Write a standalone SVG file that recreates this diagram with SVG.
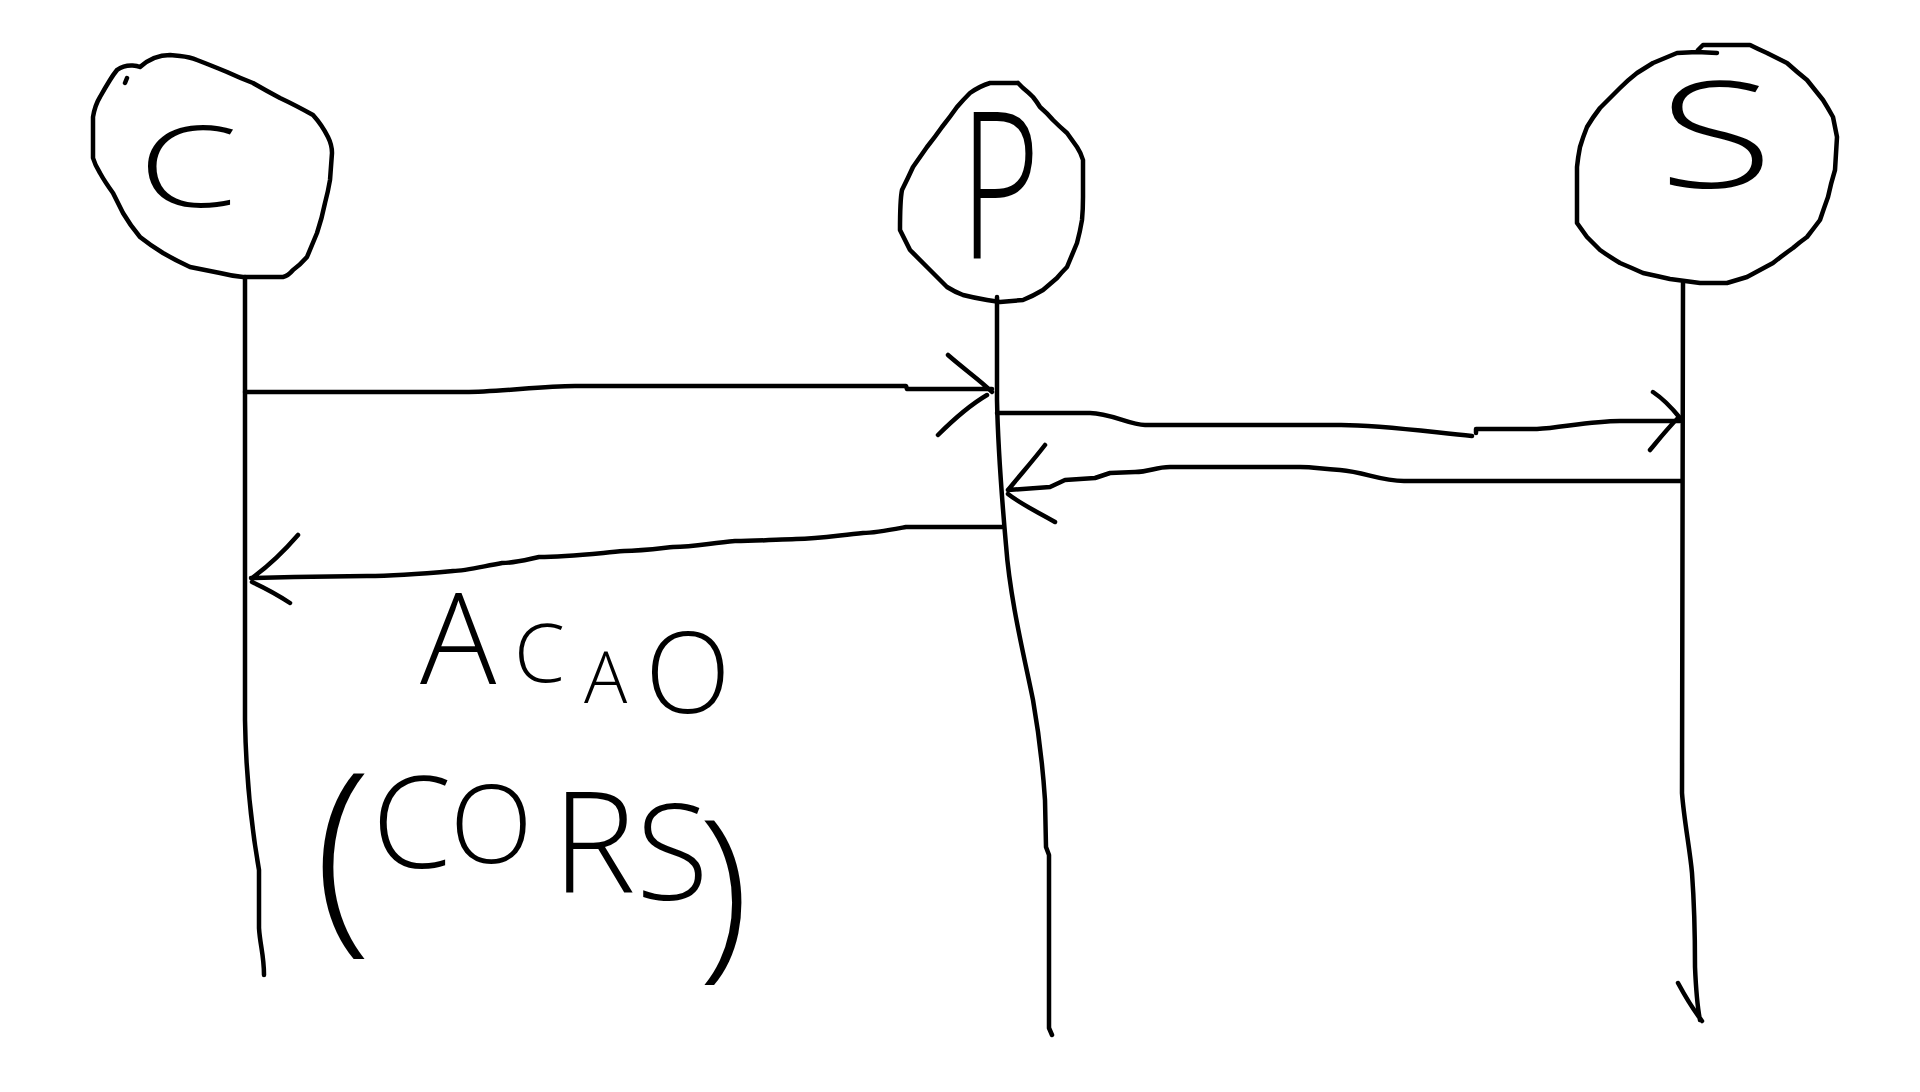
<svg xmlns="http://www.w3.org/2000/svg" width="1920" height="1092" viewBox="0 0 1920 1092">
<style>
.ink{fill:none;stroke:#000;stroke-width:4.5;stroke-linecap:round;stroke-linejoin:round}
.hand{font-family:"Open Sans","Liberation Sans",sans-serif;font-weight:300;fill:#000}
</style>
<rect width="1920" height="1092" fill="#fff"/>
<g id="node-C">
<path class="ink" d="M125,83 L127,78 M117,70 C128,62 140,67 140,67 C150,58 160,55 170,55 L180,56 C190,57 197,60 197,60 C210,65 227,72 227,72 C240,78 253,83 253,83 C265,90 280,98 280,98 C295,105 313,115 313,115 C322,125 328,137 328,137 C332,145 332,153 332,153 L330,180 C328,192 325,203 325,203 C322,218 317,233 317,233 C312,245 307,257 307,257 C300,265 293,270 293,270 C288,276 283,277 283,277 L243,277 C232,276 220,273 220,273 C205,270 190,267 190,267 C175,260 163,253 163,253 C150,245 140,237 140,237 C130,225 123,213 123,213 C118,203 113,193 113,193 C105,182 100,173 100,173 C95,165 93,158 93,158 L93,117 C95,105 100,97 100,97 C105,88 110,80 110,80 C113,75 117,70 117,70"/>
<text class="hand" x="188" y="207" font-size="113" text-anchor="middle" textLength="100" lengthAdjust="spacingAndGlyphs">C</text>
<path class="ink" d="M245,277 L245,720 C246,780 252,830 259,870 L259,928 C260,945 264,955 264,975"/>
</g>
<g id="node-P">
<path class="ink" d="M1018,83 L990,83 C980,86 970,93 970,93 C963,100 957,107 957,107 C950,117 942,127 942,127 C935,137 927,147 927,147 C920,157 913,167 913,167 C908,178 902,190 902,190 C900,200 900,230 900,230 C905,240 910,250 910,250 C918,258 927,267 927,267 C937,277 947,287 947,287 C955,292 963,295 963,295 C975,298 987,300 987,300 L1000,302 L1023,300 C1033,296 1043,290 1043,290 C1050,284 1057,278 1057,278 C1062,272 1067,267 1067,267 C1072,255 1077,243 1077,243 C1080,232 1082,220 1082,220 C1083,210 1083,197 1083,197 L1083,160 C1081,153 1077,147 1077,147 C1072,140 1067,133 1067,133 C1060,127 1053,120 1053,120 C1047,113 1040,107 1040,107 C1037,102 1033,97 1033,97 C1028,92 1023,88 1023,88 L1018,83"/>
<text class="hand" x="1000" y="259" font-size="204" text-anchor="middle" textLength="80" lengthAdjust="spacingAndGlyphs">P</text>
<path class="ink" d="M997,297 L997,400 C998,450 1002,500 1006,545 C1010,600 1025,660 1033,700 C1040,740 1043,770 1045,800 L1046,847 L1049,855 L1049,1028 L1052,1035"/>
</g>
<g id="node-S">
<path class="ink" d="M1717,53 L1697,52 L1677,53 C1665,58 1653,63 1653,63 C1645,68 1637,73 1637,73 C1628,80 1620,88 1620,88 C1610,98 1600,108 1600,108 C1593,117 1587,127 1587,127 C1583,137 1580,147 1580,147 C1578,157 1577,167 1577,167 L1577,223 C1582,230 1587,237 1587,237 C1593,243 1600,250 1600,250 C1610,257 1620,263 1620,263 C1632,268 1643,273 1643,273 C1657,276 1670,279 1670,279 C1685,281 1700,283 1700,283 L1727,283 C1737,280 1747,277 1747,277 C1760,270 1773,263 1773,263 C1783,255 1793,248 1793,248 C1800,242 1807,237 1807,237 C1814,228 1820,220 1820,220 C1824,208 1828,197 1828,197 C1831,183 1835,170 1835,170 C1836,153 1837,137 1837,137 L1833,117 C1828,108 1823,100 1823,100 C1815,90 1807,80 1807,80 C1797,72 1787,63 1787,63 C1777,58 1767,53 1767,53 C1758,49 1750,45 1750,45 L1703,45 L1698,50"/>
<text class="hand" x="1716" y="188" font-size="147" text-anchor="middle" textLength="115" lengthAdjust="spacingAndGlyphs">S</text>
<path class="ink" d="M1683,283 L1682,793 C1684,820 1690,850 1692,873 C1694,900 1695,930 1695,967 C1696,990 1697,1005 1700,1020 M1678,983 C1685,996 1692,1008 1702,1021"/>
</g>
<g id="labels">
<text class="hand"><tspan x="420" y="684" font-size="127">A</tspan><tspan x="514" y="682" font-size="82">C</tspan><tspan x="584" y="703" font-size="72">A</tspan><tspan x="645" y="713" font-size="112">O</tspan></text>
<text class="hand"><tspan x="314" y="925" font-size="212">(</tspan><tspan x="372" y="868" font-size="128">C</tspan><tspan x="450" y="863" font-size="108">O</tspan><tspan x="552" y="893" font-size="141">R</tspan><tspan x="636" y="900" font-size="133">S</tspan><tspan x="698" y="955" font-size="188">)</tspan></text>
</g>
<g id="connectors">
<path class="ink" d="M245,392 L465,392 C500,392 540,386 575,386 L906,386 L907,389 L992,389 M948,355 C965,370 980,380 992,392 M938,435 C955,418 970,405 987,395"/>
<path class="ink" d="M997,413 L1090,413 C1110,413 1130,425 1145,425 L1341,425 C1380,425 1430,432 1472,436 M1476,433 L1476,429 L1537,429 C1560,428 1590,421 1620,421 L1680,421 M1653,392 C1665,400 1672,408 1680,418 M1650,450 C1660,438 1668,428 1677,419"/>
<path class="ink" d="M1681,481 L1404,481 C1380,481 1365,472 1340,470 C1320,469 1315,467 1300,467 L1170,467 C1155,467 1150,472 1135,472 L1110,473 L1095,478 L1065,480 L1050,487 L1008,490 M1045,445 C1032,462 1020,475 1008,490 M1055,522 C1038,512 1022,505 1008,494"/>
<path class="ink" d="M1002,527 L906,527 C890,530 875,533 863,533 C840,535 820,539 796,539 C770,540 755,541 735,541 C710,543 695,547 673,547 C655,549 640,551 624,551 C590,554 565,557 539,557 C525,560 515,563 502,563 C480,567 465,571 453,571 C420,574 395,576 367,576 L294,577 L251,578 M298,535 C285,550 270,565 252,578 M290,603 C278,595 265,588 252,582"/>
</g>
</svg>
